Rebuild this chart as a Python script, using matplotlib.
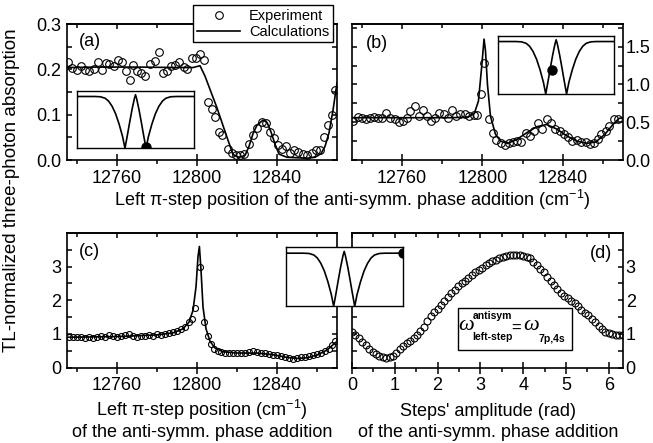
import matplotlib
matplotlib.use("Agg")
import matplotlib.pyplot as plt
from matplotlib.patches import Rectangle
from matplotlib.ticker import MultipleLocator, FormatStrFormatter

plt.rcParams["font.family"] = ["Liberation Sans", "DejaVu Sans"]
plt.rcParams["font.size"] = 13
plt.rcParams["mathtext.default"] = "regular"
plt.rcParams["axes.linewidth"] = 1.2

# panel (a): experiment + calculation
a_exp_x = [12735.7, 12737.5, 12739.8, 12741.8, 12744.2, 12746.1, 12748.4, 12750.3, 12752.3, 12754.3,
           12756.1, 12758.3, 12760.5, 12762.3, 12764.5, 12766.4, 12768.2, 12770.1, 12772.2, 12774.2,
           12776.5, 12778.8, 12780.9, 12782.8, 12784.8, 12787.1, 12789.0, 12791.1, 12793.5, 12795.2,
           12797.3, 12799.5, 12801.5, 12803.5, 12805.7, 12807.3, 12809.0, 12810.8, 12812.6, 12815.5,
           12817.3, 12819.5, 12821.5, 12823.5, 12826.0, 12828.2, 12830.2, 12832.3, 12834.6, 12836.5,
           12838.5, 12840.7, 12842.5, 12844.5, 12846.5, 12848.7, 12850.7, 12852.8, 12854.8, 12857.3,
           12859.5, 12861.3, 12863.5, 12865.7, 12867.3, 12869.0]
a_exp_y = [0.217, 0.204, 0.198, 0.208, 0.199, 0.196, 0.201, 0.216, 0.198, 0.213,
           0.212, 0.208, 0.221, 0.217, 0.197, 0.176, 0.210, 0.197, 0.192, 0.185,
           0.212, 0.219, 0.239, 0.193, 0.197, 0.207, 0.210, 0.217, 0.205, 0.200,
           0.225, 0.224, 0.234, 0.221, 0.129, 0.112, 0.094, 0.062, 0.055, 0.025,
           0.016, 0.011, 0.011, 0.014, 0.035, 0.055, 0.070, 0.083, 0.081, 0.062,
           0.048, 0.033, 0.025, 0.031, 0.016, 0.021, 0.018, 0.013, 0.012, 0.016,
           0.022, 0.023, 0.051, 0.077, 0.099, 0.154]
a_calc_x = [12735, 12750, 12770, 12790, 12798, 12801.5, 12804, 12810, 12815, 12818, 12821, 12824,
            12826, 12828, 12830, 12833, 12835, 12837, 12839, 12841, 12845, 12850, 12855, 12859,
            12862, 12864, 12866, 12868, 12870]
a_calc_y = [0.204, 0.205, 0.205, 0.204, 0.204, 0.208, 0.185, 0.115, 0.050, 0.012, 0.006, 0.010,
            0.030, 0.058, 0.077, 0.088, 0.083, 0.062, 0.035, 0.013, 0.006, 0.005, 0.004, 0.006,
            0.014, 0.030, 0.060, 0.110, 0.170]

# panel (b)
b_exp_x = [12735.7, 12737.8, 12739.8, 12741.8, 12744.0, 12746.0, 12748.0, 12750.0, 12751.8, 12754.0,
           12756.2, 12758.2, 12760.2, 12762.3, 12764.0, 12766.2, 12768.2, 12770.2, 12772.3, 12774.5,
           12776.5, 12778.5, 12780.7, 12782.7, 12784.8, 12786.8, 12789.0, 12791.2, 12793.2, 12795.7,
           12797.3, 12799.2, 12800.8, 12803.2, 12805.3, 12807.0, 12809.0, 12811.0, 12813.2, 12815.3,
           12817.3, 12819.3, 12821.5, 12823.7, 12825.7, 12827.7, 12829.8, 12832.0, 12834.0, 12836.0,
           12838.7, 12840.7, 12842.7, 12844.8, 12847.0, 12849.0, 12851.5, 12853.7, 12855.7, 12857.7,
           12859.3, 12861.5, 12863.2, 12865.3, 12867.3]
b_exp_y = [0.52, 0.575, 0.56, 0.54, 0.56, 0.575, 0.56, 0.55, 0.627, 0.56,
           0.54, 0.50, 0.52, 0.56, 0.65, 0.71, 0.583, 0.66, 0.583, 0.52,
           0.56, 0.627, 0.605, 0.56, 0.66, 0.583, 0.605, 0.605, 0.583, 0.59,
           0.59, 0.868, 1.29, 0.54, 0.364, 0.268, 0.224, 0.197, 0.224, 0.232,
           0.254, 0.232, 0.364, 0.32, 0.386, 0.487, 0.408, 0.54, 0.487, 0.408,
           0.386, 0.342, 0.298, 0.254, 0.268, 0.241, 0.232, 0.21, 0.224, 0.276,
           0.342, 0.386, 0.452, 0.54, 0.548]
b_calc_x = [12735, 12760, 12785, 12793, 12796, 12798, 12799.5, 12800.8, 12801.5, 12802.5, 12804,
            12806.5, 12809, 12812.5, 12817, 12822, 12827, 12832, 12837, 12842, 12847, 12852,
            12856.5, 12861, 12865, 12868, 12870]
b_calc_y = [0.56, 0.56, 0.56, 0.57, 0.62, 0.78, 1.2, 1.6, 1.45, 1.0, 0.58,
            0.34, 0.25, 0.22, 0.27, 0.36, 0.44, 0.47, 0.41, 0.32, 0.25, 0.22,
            0.24, 0.34, 0.47, 0.55, 0.56]

# panel (c)
c_exp_x = [12736, 12738, 12740, 12742, 12744, 12746, 12748, 12750, 12752, 12754, 12756, 12758,
           12760, 12762, 12764, 12766, 12768, 12770, 12772, 12774, 12776, 12778, 12780, 12782,
           12784, 12786, 12788, 12790, 12792, 12794, 12796, 12797.5, 12799, 12801.5, 12803.5,
           12805.3, 12807, 12808.7, 12810.3, 12812, 12814, 12816, 12818, 12820, 12822, 12824,
           12826, 12828, 12830, 12832, 12834, 12836, 12838, 12840, 12842, 12844, 12846, 12848,
           12850, 12852, 12854, 12856, 12858, 12860, 12862, 12864, 12866, 12867.5, 12869]
c_exp_y = [0.90, 0.92, 0.90, 0.91, 0.88, 0.92, 0.87, 0.90, 0.93, 0.92, 0.98, 0.95,
           0.90, 0.93, 0.96, 1.00, 0.94, 0.90, 0.93, 0.95, 0.98, 0.95, 1.00, 0.98,
           1.01, 1.03, 1.05, 1.10, 1.15, 1.20, 1.35, 1.45, 1.78, 2.98, 1.34,
           0.94, 0.70, 0.55, 0.49, 0.45, 0.43, 0.42, 0.44, 0.42, 0.43, 0.42,
           0.46, 0.48, 0.45, 0.44, 0.42, 0.40, 0.38, 0.36, 0.34, 0.32, 0.27, 0.25,
           0.27, 0.30, 0.30, 0.33, 0.36, 0.40, 0.44, 0.50, 0.55, 0.68, 0.80]
c_calc_x = [12735, 12760, 12780, 12788, 12793, 12796, 12798, 12799.5, 12800.5, 12801.2, 12802,
            12803, 12804.5, 12806.5, 12809, 12813, 12820, 12830, 12838, 12845, 12850, 12855,
            12860, 12865, 12870]
c_calc_y = [0.90, 0.92, 0.97, 1.03, 1.15, 1.35, 1.7, 2.4, 3.3, 3.6, 2.9,
            1.8, 1.15, 0.78, 0.58, 0.47, 0.43, 0.43, 0.38, 0.30, 0.27, 0.29,
            0.37, 0.52, 0.78]

# panel (d)
d_exp_x = [0.00, 0.08, 0.16, 0.24, 0.32, 0.40, 0.48, 0.56, 0.64, 0.72, 0.80, 0.88, 0.96, 1.04,
           1.12, 1.20, 1.28, 1.36, 1.44, 1.52, 1.60, 1.68, 1.76, 1.84, 1.92, 2.00, 2.08, 2.16,
           2.24, 2.32, 2.40, 2.48, 2.56, 2.64, 2.72, 2.80, 2.88, 2.96, 3.04, 3.12, 3.20, 3.28,
           3.36, 3.44, 3.52, 3.60, 3.68, 3.76, 3.84, 3.92, 4.00, 4.08, 4.16, 4.24, 4.32, 4.40,
           4.48, 4.56, 4.64, 4.72, 4.80, 4.88, 4.96, 5.04, 5.12, 5.20, 5.28, 5.36, 5.44, 5.52,
           5.60, 5.68, 5.76, 5.84, 5.92, 6.00, 6.08, 6.16, 6.24, 6.32]
d_exp_y = [1.05, 0.97, 0.87, 0.77, 0.66, 0.56, 0.46, 0.39, 0.33, 0.30, 0.29, 0.31, 0.35, 0.43,
           0.55, 0.63, 0.72, 0.80, 0.89, 0.98, 1.08, 1.20, 1.38, 1.52, 1.65, 1.74, 1.85, 1.97,
           2.10, 2.22, 2.32, 2.42, 2.50, 2.58, 2.66, 2.76, 2.83, 2.90, 2.97, 3.04, 3.10, 3.16,
           3.21, 3.25, 3.30, 3.33, 3.36, 3.36, 3.34, 3.35, 3.33, 3.30, 3.25, 3.15, 3.04, 2.94,
           2.84, 2.70, 2.56, 2.44, 2.33, 2.22, 2.14, 2.06, 1.98, 1.92, 1.82, 1.70, 1.62, 1.55,
           1.45, 1.34, 1.24, 1.14, 1.07, 1.02, 1.00, 0.98, 0.97, 0.97]

# schematic spectrum in the insets, and the dot position in each
ins_x = [0.00, 0.15, 0.20, 0.24, 0.27, 0.30, 0.33, 0.36, 0.39, 0.41, 0.43, 0.45, 0.47, 0.49, 0.50,
         0.51, 0.53, 0.55, 0.57, 0.59, 0.61, 0.64, 0.67, 0.70, 0.73, 0.76, 0.80, 0.85, 1.00]
ins_y = [0.90, 0.90, 0.895, 0.87, 0.82, 0.73, 0.60, 0.42, 0.20, 0.00, 0.22, 0.45, 0.67, 0.86, 0.93,
         0.86, 0.67, 0.45, 0.22, 0.00, 0.20, 0.42, 0.60, 0.73, 0.82, 0.87, 0.895, 0.90, 0.90]
dot_a = (0.59, 0.03)
dot_b = (0.467, 0.41)
dot_c = (1.0, 0.90)

fig = plt.figure(figsize=(6.53, 4.43), dpi=100)
ax_a = fig.add_axes([0.1026, 0.6388, 0.4135, 0.307])
ax_b = fig.add_axes([0.539, 0.6388, 0.415, 0.307])
ax_c = fig.add_axes([0.1026, 0.1704, 0.4135, 0.3036])
ax_d = fig.add_axes([0.539, 0.1704, 0.415, 0.3036])


def style(ax, xmaj, xmin, yticks, yminor, fmt, right=False):
    ax.xaxis.set_major_locator(MultipleLocator(xmaj))
    ax.xaxis.set_minor_locator(MultipleLocator(xmin))
    ax.set_yticks(yticks)
    ax.set_yticks(yminor, minor=True)
    ax.yaxis.set_major_formatter(FormatStrFormatter(fmt))
    ax.tick_params(axis="x", which="major", direction="inout", length=8, width=1.1, top=False, pad=3)
    ax.tick_params(axis="x", which="minor", direction="out", length=3, width=1.1, top=False)
    ax.tick_params(axis="y", which="both", direction="in", left=True, right=True, width=1.1)
    ax.tick_params(axis="y", which="major", length=3.6)
    ax.tick_params(axis="y", which="minor", length=3.6)
    if right:
        ax.tick_params(axis="y", labelleft=False, labelright=True, pad=2)
    else:
        ax.tick_params(axis="y", pad=4)
    top = ax.secondary_xaxis("top")
    top.xaxis.set_major_locator(MultipleLocator(xmaj))
    top.xaxis.set_minor_locator(MultipleLocator(xmin))
    top.tick_params(which="both", direction="in", labeltop=False, width=1.1)
    top.tick_params(which="major", length=3.6)
    top.tick_params(which="minor", length=3)


exp_kw = dict(ls="none", marker="o", mfc="none", mec="k", mew=0.8)

# (a)
h_exp, = ax_a.plot(a_exp_x, a_exp_y, ms=5.5, label="Experiment", **exp_kw)
h_calc, = ax_a.plot(a_calc_x, a_calc_y, color="k", lw=1.2, label="Calculations")
ax_a.set_xlim(12735, 12870)
ax_a.set_ylim(0, 0.3)
style(ax_a, 40, 20, [0, 0.1, 0.2, 0.3], [0.05, 0.15, 0.25], "%.1f")
ax_a.text(0.045, 0.875, "(a)", transform=ax_a.transAxes, va="center")

# (b)
ax_b.plot(b_exp_x, b_exp_y, ms=5.5, **exp_kw)
ax_b.plot(b_calc_x, b_calc_y, color="k", lw=1.2)
ax_b.set_xlim(12735, 12870)
ax_b.set_ylim(0, 1.8)
style(ax_b, 40, 20, [0, 0.5, 1.0, 1.5], [0.25, 0.75, 1.25, 1.75], "%.1f", right=True)
ax_b.text(0.05, 0.86, "(b)", transform=ax_b.transAxes, va="center")

# (c)
ax_c.plot(c_calc_x, c_calc_y, color="k", lw=1.2)
ax_c.plot(c_exp_x, c_exp_y, ms=4.3, **exp_kw)
ax_c.set_xlim(12735, 12870)
ax_c.set_ylim(0, 4.0)
style(ax_c, 40, 20, [0, 1, 2, 3], [0.5, 1.5, 2.5, 3.5], "%d")
ax_c.text(0.045, 0.866, "(c)", transform=ax_c.transAxes, va="center")

# (d)
ax_d.plot(d_exp_x, d_exp_y, ms=5.0, **exp_kw)
ax_d.set_xlim(0, 6.33)
ax_d.set_ylim(0, 4.0)
style(ax_d, 1, 0.5, [0, 1, 2, 3], [0.5, 1.5, 2.5, 3.5], "%d", right=True)
ax_d.text(0.96, 0.85, "(d)", transform=ax_d.transAxes, ha="right", va="center")

# formula box in (d)
ax_d.add_patch(Rectangle((0.391, 0.127), 0.421, 0.313, transform=ax_d.transAxes,
                         fill=False, ec="k", lw=1.0, zorder=5))
ax_d.text(0.42, 0.31, "ω", transform=ax_d.transAxes, ha="center", va="center",
          fontsize=16, style="italic", family="Liberation Serif", zorder=6)
ax_d.text(0.445, 0.385, "antisym", transform=ax_d.transAxes, ha="left", va="center",
          fontsize=7.5, weight="bold", zorder=6)
ax_d.text(0.445, 0.225, "left-step", transform=ax_d.transAxes, ha="left", va="center",
          fontsize=7.5, weight="bold", zorder=6)
ax_d.text(0.607, 0.29, "=", transform=ax_d.transAxes, ha="center", va="center",
          fontsize=12, zorder=6)
ax_d.text(0.66, 0.31, "ω", transform=ax_d.transAxes, ha="center", va="center",
          fontsize=16, style="italic", family="Liberation Serif", zorder=6)
ax_d.text(0.688, 0.215, "7p,4s", transform=ax_d.transAxes, ha="left", va="center",
          fontsize=7.5, weight="bold", zorder=6)

# insets
for rect, dot in [([0.1179, 0.6652, 0.1792, 0.130], dot_a),
                  ([0.7631, 0.7878, 0.1772, 0.1316], dot_b),
                  ([0.4375, 0.3086, 0.1792, 0.1332], dot_c)]:
    ins = fig.add_axes(rect)
    ins.plot(ins_x, ins_y, color="k", lw=1.2)
    ins.plot([dot[0]], [dot[1]], "o", color="k", ms=6.5)
    ins.set_xlim(0, 1)
    ins.set_ylim(0, 1)
    ins.set_xticks([])
    ins.set_yticks([])
    for s in ins.spines.values():
        s.set_linewidth(1.0)

# labels
fig.text(0.539, 1 - 206 / 443, "Left π-step position of the anti-symm. phase addition (cm$^{-1}$)",
         ha="center", va="baseline")
fig.text(0.3093, 1 - 416 / 443, "Left π-step position (cm$^{-1}$)", ha="center", va="baseline")
fig.text(0.3093, 1 - 437 / 443, "of the anti-symm. phase addition", ha="center", va="baseline")
fig.text(0.748, 1 - 416 / 443, "Steps' amplitude (rad)", ha="center", va="baseline")
fig.text(0.748, 1 - 437 / 443, "of the anti-symm. phase addition", ha="center", va="baseline")
fig.text(0.018, 1 - 190 / 443, "TL-normalized three-photon absorption", rotation=90,
         ha="center", va="center", fontsize=13.5)

fig.legend(handles=[h_exp, h_calc], loc="upper left", bbox_to_anchor=(193 / 653, 1 - 5 / 443),
           fontsize=10.5, frameon=True, fancybox=False, edgecolor="k", framealpha=1,
           borderpad=0.25, handlelength=3.0, handletextpad=0.6, labelspacing=0.15,
           borderaxespad=0)

fig.savefig("out.png", dpi=100)
